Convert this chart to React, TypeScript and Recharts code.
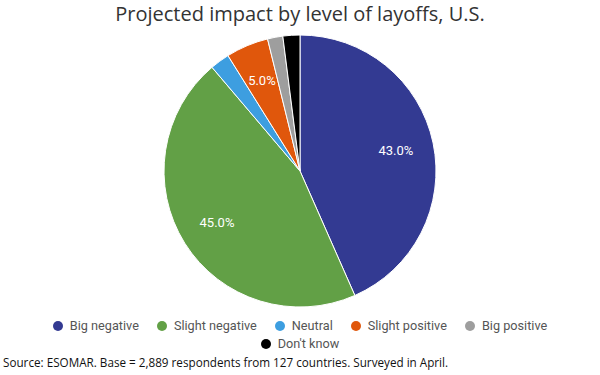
import React from "react";
import { PieChart, Pie, Cell, Legend } from "recharts";

const categories = ["Big negative", "Slight negative", "Neutral", "Slight positive", "Big positive", "Don't know"];
const shares = [43.0, 45.0, 2.3, 5.0, 1.8, 2.0];
const labels = ["43.0%", "45.0%", "", "5.0%", "", ""];
const colors = ["#333a92", "#62a046", "#3d9ee0", "#e0570c", "#9e9e9e", "#000000"];

const data = categories.map((name, i) => ({ name, value: shares[i], label: labels[i] }));

const RAD = Math.PI / 180;

const renderLabel = (props: any) => {
  const { cx, cy, midAngle, outerRadius, payload, index } = props;
  const text = (payload && payload.label) || labels[index];
  if (!text) return null;
  const r = outerRadius * 0.72;
  const x = cx + r * Math.cos(-midAngle * RAD);
  const y = cy + r * Math.sin(-midAngle * RAD);
  return (
    <text x={x} y={y} fill="#ffffff" textAnchor="middle" dominantBaseline="central"
      fontFamily="Roboto, sans-serif" fontSize={13}>
      {text}
    </text>
  );
};

const renderLegend = () => (
  <div style={{ display: "flex", flexWrap: "wrap", justifyContent: "center", width: 520, margin: "0 auto", rowGap: 2 }}>
    {categories.map((c, i) => (
      <div key={c} style={{ display: "flex", alignItems: "center", marginLeft: 9, marginRight: 9, fontFamily: "Roboto, sans-serif", fontSize: 12.7, color: "#555", lineHeight: "16px" }}>
        <span style={{ display: "inline-block", width: 10, height: 10, borderRadius: "50%", background: colors[i], marginRight: 7 }} />
        {c}
      </div>
    ))}
  </div>
);

export default function App() {
  return (
    <div style={{ position: "absolute", left: 0, top: 0, width: 600, height: 375, background: "#fff" }}>
      <div style={{ position: "absolute", left: 0, top: 0, width: 600, textAlign: "center", fontFamily: "'Open Sans', sans-serif", fontSize: 20, color: "#333" }}>
        Projected impact by level of layoffs, U.S.
      </div>
      <PieChart width={600} height={352} margin={{ top: 0, right: 0, bottom: 0, left: 0 }}>
        <Pie data={data} dataKey="value" nameKey="name" cx={300} cy={171} outerRadius={136}
          startAngle={90} endAngle={-270} stroke="#ffffff" strokeWidth={1}
          label={renderLabel} labelLine={false} isAnimationActive={false}>
          {data.map((d, i) => <Cell key={d.name} fill={colors[i]} />)}
        </Pie>
        <Legend content={renderLegend} verticalAlign="bottom" wrapperStyle={{ bottom: 0 }} />
      </PieChart>
      <div style={{ position: "absolute", left: 3, top: 354, fontFamily: "'Open Sans', sans-serif", fontSize: 11.7, color: "#111" }}>
        Source: ESOMAR. Base = 2,889 respondents from 127 countries. Surveyed in April.
      </div>
    </div>
  );
}
